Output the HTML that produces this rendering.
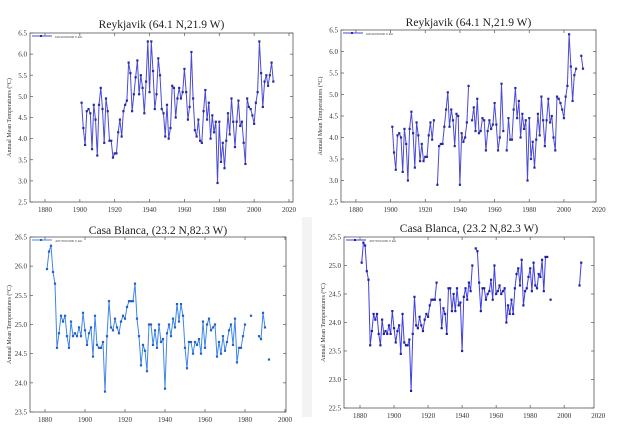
<!DOCTYPE html>
<html><head><meta charset="utf-8">
<style>
html,body{margin:0;padding:0;background:#fff;}
svg{display:block;}
svg text{font-family:"Liberation Serif","DejaVu Serif",serif;}
</style></head>
<body>
<svg id="fig" width="622" height="434" viewBox="0 0 622 434" xmlns="http://www.w3.org/2000/svg" font-family="Liberation Serif, serif">
<rect x="0" y="0" width="622" height="434" fill="#fff"/>
<rect x="302" y="217" width="10" height="200" fill="#f3f3f3"/>
</svg>
<script>
const N=null;
// Reykjavik raw 1901-2011
const rawReykYears=[];for(let y=1901;y<=2011;y++)rawReykYears.push(y);
const rawReykVals=[4.85,4.25,3.85,4.65,4.7,4.6,3.75,4.8,4.45,3.6,4.8,5.2,4.7,3.9,4.95,4.65,3.95,3.95,3.55,3.65,3.65,4.15,4.45,4.05,4.65,4.8,4.9,5.8,5.55,4.65,5.05,5.45,5.85,5.05,5.5,5.2,4.6,5.35,6.3,5.1,6.3,5.6,4.7,5.05,5.9,5.5,4.7,4.6,4.05,4.8,4.0,4.25,5.25,5.2,4.5,4.95,5.2,4.95,5.1,5.65,5.1,4.45,4.75,6.05,4.95,4.2,4.05,4.45,3.95,3.9,4.65,5.15,4.45,4.85,4.0,4.55,4.15,4.4,2.95,4.4,3.45,3.9,3.3,3.95,4.6,4.1,4.95,4.4,3.8,4.4,4.9,4.3,4.4,3.9,3.4,4.95,4.75,4.7,4.55,4.35,4.85,5.1,6.3,5.55,4.75,5.35,5.5,5.25,5.5,5.8,5.35];
// Reykjavik adjusted 1901-2011
const adjReykVals=[4.25,3.65,3.25,4.05,4.1,4.0,3.2,4.2,3.85,3.0,4.2,4.6,4.1,3.3,4.35,4.05,3.45,3.85,3.45,3.55,3.55,4.05,4.35,3.95,4.4,N,2.9,3.8,3.85,3.85,4.25,4.65,5.05,4.25,4.65,4.4,3.8,4.55,4.5,2.9,4.1,3.9,4.0,4.35,5.2,N,4.4,4.7,4.15,4.9,4.1,4.15,4.45,4.4,3.7,4.15,4.4,4.2,4.3,4.8,4.3,3.7,4.0,5.25,4.15,N,3.7,4.45,3.95,3.95,4.65,5.15,4.45,4.85,4.0,4.55,4.2,4.4,3.0,4.45,3.5,3.9,3.3,3.95,4.55,4.05,4.95,4.4,3.8,4.4,4.9,4.35,4.5,4.0,3.7,4.95,4.9,4.8,4.65,4.45,4.95,5.2,6.4,5.65,4.85,5.45,5.6,N,N,5.9,5.6];
// Casa Blanca raw 1881-1992
const casaYears=[];for(let y=1881;y<=1992;y++)casaYears.push(y);
const rawCasaVals=[25.95,26.25,26.35,25.9,25.7,24.6,24.85,25.15,25.05,25.15,24.8,24.6,25.05,24.8,24.85,24.8,24.95,24.8,25.2,24.9,24.65,24.85,24.95,24.45,25.15,24.65,24.6,24.6,24.7,23.85,24.8,25.4,24.95,24.9,25.1,24.95,24.85,25.05,25.15,25.1,25.3,25.4,25.4,25.4,25.7,25.1,24.8,24.3,24.65,24.55,24.2,25.0,25.0,24.65,24.9,24.6,25.0,24.7,24.75,23.9,24.85,25.0,24.8,25.1,24.95,25.35,25.05,25.35,25.15,24.6,24.25,24.7,24.7,24.5,24.7,24.65,24.75,24.5,25.05,24.6,25.0,25.1,24.9,24.95,25.0,24.45,24.7,24.5,24.8,24.55,24.7,24.9,25.0,24.65,25.1,24.35,24.6,24.6,24.8,25.0,N,N,25.15,N,N,N,24.8,24.75,25.2,24.95,N,24.4];
// Casa Blanca adjusted 1881-2011
const adjCasaYears=[];for(let y=1881;y<=2011;y++)adjCasaYears.push(y);
const adjCasaVals=[25.05,25.4,25.35,24.9,24.75,23.6,23.85,24.15,24.05,24.15,23.8,23.6,24.05,23.8,23.85,23.8,23.95,23.8,24.2,23.9,23.65,23.85,23.95,23.45,24.15,23.65,23.6,23.6,23.7,22.8,23.8,24.45,23.95,23.9,24.1,23.95,23.85,24.05,24.15,24.1,24.3,24.4,24.4,24.4,24.7,N,24.4,23.9,24.25,24.15,23.8,24.6,24.6,24.2,24.5,24.2,24.6,24.3,24.35,23.5,24.45,24.6,24.4,24.7,24.55,25.0,N,25.3,25.25,24.7,24.2,24.6,24.6,24.4,24.5,24.55,24.75,24.4,25.0,24.5,24.55,24.65,24.5,24.55,24.6,24.0,24.3,24.15,24.4,24.15,24.6,24.85,24.95,24.65,25.1,24.3,24.55,24.6,24.8,24.95,24.55,25.05,24.65,24.6,24.85,24.8,25.1,24.55,25.15,25.15,N,24.4,N,N,N,N,N,N,N,N,N,N,N,N,N,N,N,N,24.65,25.05];

const xTicks1=[1880,1900,1920,1940,1960,1980,2000,2020];
const xTicks2=[1880,1900,1920,1940,1960,1980,2000];
const yTicksReyk=[2.5,3.0,3.5,4.0,4.5,5.0,5.5,6.0,6.5];
const yTicksCasaRaw=[23.5,24.0,24.5,25.0,25.5,26.0,26.5];
const yTicksCasaAdj=[22.5,23.0,23.5,24.0,24.5,25.0,25.5];

const NS="http://www.w3.org/2000/svg";
const svg=document.getElementById('fig');
function mk(tag,attrs,parent){const e=document.createElementNS(NS,tag);for(const k in attrs)e.setAttribute(k,attrs[k]);(parent||svg).appendChild(e);return e;}

function panel(cfg){
  const g=mk('g',{});
  
  
  const {L,R,T,B,x0,x1,y0,y1}=cfg;
  const sx=v=>L+(v-x0)/(x1-x0)*(R-L);
  const sy=v=>B-(v-y0)/(y1-y0)*(B-T);
  const t=mk('text',{x:(L+R)/2,y:cfg.titleY,'text-anchor':'middle','font-size':'11.5',fill:'#222'},g);
  t.textContent=cfg.title;
  
  
  const box=mk('rect',{x:L,y:T,width:R-L,height:B-T,fill:'none',stroke:'#555','stroke-width':'0.8'},g);
  
  
  cfg.xt.forEach(v=>{
    const x=sx(v);
    if(x<=R+0.5){
      mk('line',{x1:x,x2:x,y1:B,y2:B-3,stroke:'#555','stroke-width':'0.7'},g);
      mk('line',{x1:x,x2:x,y1:T,y2:T+3,stroke:'#555','stroke-width':'0.7'},g);
    }
    const l=mk('text',{x:x,y:B+10,'text-anchor':'middle','font-size':'7',fill:'#333'},g);
    l.textContent=v;
    
    
  });
  cfg.yt.forEach(v=>{
    const y=sy(v);
    mk('line',{x1:L,x2:L+3,y1:y,y2:y,stroke:'#555','stroke-width':'0.7'},g);
    mk('line',{x1:R,x2:R-3,y1:y,y2:y,stroke:'#555','stroke-width':'0.7'},g);
    const l=mk('text',{x:L-3,y:y+2.5,'text-anchor':'end','font-size':'7',fill:'#333'},g);
    l.textContent=v.toFixed(1);
    
    
  });
  const yl=mk('text',{x:0,y:0,'text-anchor':'middle','font-size':'6',fill:'#333',transform:`translate(${L-19},${(T+B)/2}) rotate(-90)`},g);
  yl.textContent='Annual Mean Temperatures (°C)';
  
  
  let d='',pen=false;
  cfg.years.forEach((yr,i)=>{const v=cfg.vals[i];if(v===null||v===undefined){pen=false;return;}
    d+=(pen?'L':'M')+sx(yr).toFixed(1)+' '+sy(v).toFixed(1);pen=true;});
  const p=mk('path',{d:d,fill:'none',stroke:cfg.color,'stroke-width':'1'},g);
  
  
  cfg.years.forEach((yr,i)=>{const v=cfg.vals[i];if(v===null||v===undefined)return;
    const m=mk('rect',{x:sx(yr)-1.1,y:sy(v)-1.1,width:2.2,height:2.2,fill:cfg.mark},g);
    
    
  });
  const lg=mk('g',{},g);
  
  
  mk('line',{x1:L+2,x2:L+22,y1:T+3,y2:T+3,stroke:cfg.color,'stroke-width':'1'},lg);
  mk('rect',{x:L+10,y:T+2,width:2,height:2,fill:cfg.mark},lg);
  const lt=mk('text',{x:L+25,y:T+5,'font-size':'3.5',fill:'#444'},lg);
  lt.textContent=cfg.legend;
}
panel({name:'reykjavik-raw-chart',title:'Reykjavik (64.1 N,21.9 W)',titleY:28,L:30,R:293,T:33,B:202,x0:1871.4,x1:2022.3,y0:2.5,y1:6.5,xt:xTicks1,yt:yTicksReyk,years:rawReykYears,vals:rawReykVals,color:'#4a4ad6',mark:'#2a2a9a',legend:'62040030000 0 km'});
panel({name:'reykjavik-adjusted-chart',title:'Reykjavik (64.1 N,21.9 W)',titleY:26,L:341,R:596,T:30,B:202,x0:1871.4,x1:2018.5,y0:2.5,y1:6.5,xt:xTicks1,yt:yTicksReyk,years:rawReykYears,vals:adjReykVals,color:'#4a4ad6',mark:'#2a2a9a',legend:'62040030000 0 km'});
panel({name:'casa-blanca-raw-chart',title:'Casa Blanca, (23.2 N,82.3 W)',titleY:234,L:30,R:286,T:237,B:412,x0:1872.5,x1:2000.5,y0:23.5,y1:26.5,xt:xTicks2,yt:yTicksCasaRaw,years:casaYears,vals:rawCasaVals,color:'#3f86ea',mark:'#2560c0',legend:'40578325000 0 km'});
panel({name:'casa-blanca-adjusted-chart',title:'Casa Blanca, (23.2 N,82.3 W)',titleY:232,L:344,R:594,T:237,B:408,x0:1870.6,x1:2017.5,y0:22.5,y1:25.5,xt:xTicks1,yt:yTicksCasaAdj,years:adjCasaYears,vals:adjCasaVals,color:'#4040e0',mark:'#2020a0',legend:'40578325000 0 km'});
</script>
</body></html>
